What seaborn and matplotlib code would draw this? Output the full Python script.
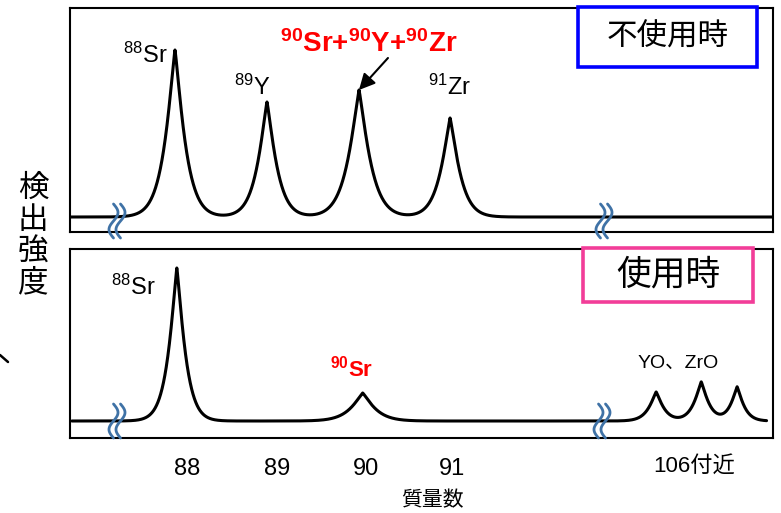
import numpy as np
import pandas as pd
import matplotlib
matplotlib.use("Agg")
import matplotlib.pyplot as plt
import seaborn as sns
from matplotlib.patches import Rectangle
from matplotlib.lines import Line2D
from matplotlib.transforms import blended_transform_factory

# ---------------- data ----------------
# top panel: without the device (不使用時)
top_peak_names = ["88Sr", "89Y", "90Sr+90Y+90Zr", "91Zr"]
top_centers = [88.0, 89.0, 90.0, 90.99]
top_heights = [167, 115, 127, 99]
top_widths = [0.133, 0.128, 0.147, 0.13]

# bottom panel: with the device (使用時)
bottom_peak_names = ["88Sr", "90Sr", "YO", "ZrO", "ZrO"]
bottom_centers = [88.02, 90.04, 93.23, 93.72, 94.11]
bottom_heights = [153, 28, 29, 39, 34]
bottom_widths = [0.111, 0.163, 0.10, 0.10, 0.09]

tick_labels = ["88", "89", "90", "91", "106付近"]
tick_positions = [88.13, 89.11, 90.08, 91.01, 93.64]

X_MIN, X_MAX = 86.859, 94.5
SHAPE_P = 1.2

# ---------------- style ----------------
sns.set_theme(style="white")
plt.rcParams["font.family"] = ["Liberation Sans", "Noto Sans CJK JP"]
plt.rcParams["text.color"] = "black"
plt.rcParams["mathtext.fontset"] = "custom"
plt.rcParams["mathtext.rm"] = "Liberation Sans"
plt.rcParams["mathtext.bf"] = "Liberation Sans:bold"
plt.rcParams["mathtext.it"] = "Liberation Sans:italic"

W, H = 781, 513
fig = plt.figure(figsize=(W / 100, H / 100), dpi=100)


def fx(px):
    return px / W


def fy(py):
    return 1 - py / H


def spectrum(x, centers, heights, widths):
    y = np.zeros_like(x)
    for c, h, w in zip(centers, heights, widths):
        y += h * np.exp(-(np.abs(x - c) / w) ** SHAPE_P)
    return y


def make_frame(x0, x1, centers, heights, widths):
    grid = np.union1d(np.linspace(x0, x1, 4000), centers)
    return pd.DataFrame({"mass": grid,
                         "intensity": spectrum(grid, centers, heights, widths)})


ax_top = fig.add_axes([fx(70), fy(232), fx(773) - fx(70), fy(8) - fy(232)])
ax_bot = fig.add_axes([fx(70), fy(438), fx(773) - fx(70), fy(249) - fy(438)])

df_top = make_frame(X_MIN, X_MAX, top_centers, top_heights, top_widths)
df_bot = make_frame(86.88, 94.43, bottom_centers, bottom_heights, bottom_widths)

sns.lineplot(data=df_top, x="mass", y="intensity", ax=ax_top, color="black",
             lw=2.2, estimator=None, sort=True)
sns.lineplot(data=df_bot, x="mass", y="intensity", ax=ax_bot, color="black",
             lw=2.2, estimator=None, sort=True)

ax_top.set_xlim(X_MIN, X_MAX)
ax_top.set_ylim(-15, 209)
ax_bot.set_xlim(X_MIN, X_MAX)
ax_bot.set_ylim(-17, 172)

for ax in (ax_top, ax_bot):
    ax.set_xticks([])
    ax.set_yticks([])
    ax.set_xlabel("")
    ax.set_ylabel("")
    for s in ax.spines.values():
        s.set_visible(True)
        s.set_color("black")
        s.set_linewidth(1.5)

# ---------------- peak labels ----------------
ax_top.text(87.674, 154, r"$^{88}$Sr", fontsize=17, ha="center", va="baseline")
ax_top.text(88.837, 122, r"$^{89}$Y", fontsize=17, ha="center", va="baseline")
ax_top.text(90.989, 122, r"$^{91}$Zr", fontsize=17, ha="center", va="baseline")
ax_top.text(90.103, 165, r"$\mathbf{{}^{90}Sr{+}{}^{90}Y{+}{}^{90}Zr}$",
            fontsize=20, color="#FF0000", ha="center", va="baseline")
ax_top.annotate("", xy=(90.0, 127), xytext=(90.315, 159),
                arrowprops=dict(arrowstyle="-|>", color="black", lw=1.5,
                                mutation_scale=24, shrinkA=0, shrinkB=0))

ax_bot.text(87.543, 126, r"$^{88}$Sr", fontsize=17, ha="center", va="baseline")
ax_bot.text(89.924, 44, r"$\mathbf{{}^{90}Sr}$", fontsize=16, color="#FF0000",
            ha="center", va="baseline")
ax_bot.text(93.467, 53, "YO、ZrO", fontsize=14, ha="center", va="baseline",
            family=["Liberation Sans", "Noto Sans CJK JP"])

# ---------------- x tick labels ----------------
tr = blended_transform_factory(ax_bot.transData, fig.transFigure)
for pos, lab in zip(tick_positions, tick_labels):
    if "付" in lab:
        fig.text(pos, fy(466), lab, transform=tr, fontsize=16, ha="center",
                 va="center", family=["Liberation Sans", "Noto Sans CJK JP"])
    else:
        fig.text(pos, fy(469), lab, transform=tr, fontsize=17, ha="center",
                 va="center", family=["Liberation Sans", "Noto Sans CJK JP"])

fig.text(fx(432), fy(500), "質量数", fontsize=15, ha="center", va="center",
         family=["Noto Sans CJK JP"])
fig.text(fx(33), fy(236), "検\n出\n強\n度", fontsize=22, ha="center",
         va="center", linespacing=1.02, family=["Noto Sans CJK JP"])

# ---------------- condition boxes ----------------
def cond_box(x0, y0, x1, y1, color, label, size):
    fig.add_artist(Rectangle((fx(x0), fy(y1)), fx(x1) - fx(x0), fy(y0) - fy(y1),
                             transform=fig.transFigure, facecolor="white",
                             edgecolor=color, lw=2.6, zorder=10))
    t = fig.text(fx((x0 + x1) / 2), fy((y0 + y1) / 2), label, fontsize=size,
                 ha="center", va="center", family=["Noto Sans CJK JP"])
    t.set_zorder(11)


cond_box(578, 7, 757, 67, "#0000FF", "不使用時", 22)
cond_box(583, 248, 753, 302, "#F23D98", "使用時", 25)

# ---------------- axis break marks ----------------
def break_mark(cx, cy):
    t = np.linspace(0, 1, 60)
    hgt = 34
    for off in (-3.5, 3.5):
        xs = cx + off + 4.5 * np.sin(2 * np.pi * t)
        ys = cy - hgt / 2 + hgt * t
        fig.add_artist(Line2D(fx(xs), fy(ys), transform=fig.transFigure,
                              color="#3F72A6", lw=2.0, zorder=12,
                              solid_capstyle="round"))


break_mark(117, 221)
break_mark(604, 221)
break_mark(117, 421)
break_mark(602, 421)

# small stray stroke at the left edge
fig.add_artist(Line2D([fx(0), fx(8)], [fy(355), fy(362)],
                      transform=fig.transFigure, color="black", lw=1.8))

fig.savefig("out.png", dpi=100)
